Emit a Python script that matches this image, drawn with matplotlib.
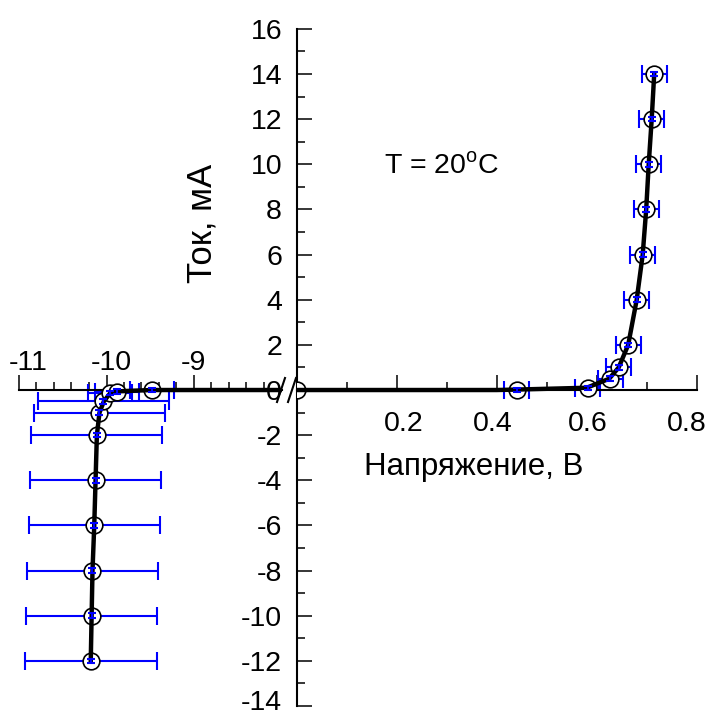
import numpy as np
import matplotlib
matplotlib.use("Agg")
import matplotlib.pyplot as plt
from matplotlib.lines import Line2D
from matplotlib.transforms import ScaledTranslation

plt.rcParams['font.family'] = ['Liberation Sans', 'DejaVu Sans']
plt.rcParams['font.size'] = 20.5
plt.rcParams['axes.unicode_minus'] = False
plt.rcParams['mathtext.fontset'] = 'custom'
plt.rcParams['mathtext.rm'] = 'Liberation Sans'

# reverse branch (left part of the broken axis), volts / mA
left_v = [-10.177, -10.169, -10.162, -10.139, -10.123, -10.112, -10.082, -10.037, -9.96, -9.883, -9.483]
left_i = [-12, -10, -8, -6, -4, -2, -1, -0.5, -0.13, -0.07, 0]
left_verr = [0.75, 0.75, 0.75, 0.75, 0.75, 0.75, 0.75, 0.75, 0.25, 0.25, 0.25]

# forward branch (right part)
right_v = [0.0, 0.440, 0.582, 0.627, 0.644, 0.663, 0.680, 0.692, 0.699, 0.704, 0.710, 0.715]
right_i = [0, 0, 0.1, 0.5, 1, 2, 4, 6, 8, 10, 12, 14]
right_verr = [0, 0.025, 0.025, 0.025, 0.025, 0.025, 0.025, 0.025, 0.025, 0.025, 0.025, 0.025]
ierr = 0.1

# fitted curve
curve_left_v = [-10.18, -10.17, -10.16, -10.14, -10.125, -10.11, -10.08, -10.03, -9.96, -9.88, -9.48, -8.0]
curve_left_i = [-12, -10, -8, -6, -4, -2, -1, -0.5, -0.15, -0.06, 0, 0]
curve_right_v = [0.0, 0.40, 0.44, 0.58, 0.625, 0.644, 0.663, 0.680, 0.692, 0.699, 0.704, 0.710, 0.715]
curve_right_i = [0, 0, 0.02, 0.1, 0.5, 1, 2, 4, 6, 8, 10, 12, 14]

W, H = 707, 715
fig = plt.figure(figsize=(W / 100, H / 100), dpi=100)
bot = (H - 706) / H
hgt = (706 - 28.9) / H
axL = fig.add_axes([19 / W, bot, 262.5 / W, hgt])
axR = fig.add_axes([296.7 / W, bot, 400 / W, hgt])

for ax in (axL, axR):
    ax.set_ylim(-14, 16)
    ax.patch.set_alpha(0)

blue = '#0000ff'
mk = dict(marker='o', ms=12, mfc='white', mec='black', mew=1.2, ls='none', zorder=3)
xbar = dict(fmt='none', ecolor=blue, elinewidth=1.5, capsize=6.5, capthick=1.5, zorder=2)
ybar = dict(fmt='none', ecolor=blue, elinewidth=1.5, capsize=3, capthick=1.5, zorder=5)

# left part
axL.set_xlim(-11, -8)
axL.errorbar(left_v, left_i, xerr=left_verr, **xbar)
axL.plot(left_v, left_i, **mk)
axL.plot(curve_left_v, curve_left_i, color='black', lw=3.2, zorder=4)
axL.errorbar(left_v, left_i, yerr=ierr, **ybar)

# right part
axR.set_xlim(0, 0.8)
axR.errorbar(right_v[1:], right_i[1:], xerr=right_verr[1:], **xbar)
axR.plot(right_v, right_i, **mk)
axR.plot(curve_right_v, curve_right_i, color='black', lw=3.2, zorder=4)
axR.errorbar(right_v[1:], right_i[1:], yerr=ierr, **ybar)

# left axis styling: only the x line at I=0, labels above
for s in ('left', 'right', 'bottom'):
    axL.spines[s].set_visible(False)
axL.spines['top'].set_position(('data', 0))
axL.spines['top'].set_linewidth(1.5)
axL.set_yticks([])
axL.xaxis.tick_top()
axL.set_xticks([-11, -10, -9])
axL.set_xticks(np.arange(-10.8, -8.1, 0.2), minor=True)
axL.tick_params(axis='x', which='both', direction='out', width=1.1, top=True,
                bottom=False, labeltop=True, labelbottom=False)
axL.tick_params(axis='x', which='major', length=10.8, pad=-1)
axL.tick_params(axis='x', which='minor', length=5.5)

# right axis styling
axR.spines['top'].set_visible(False)
axR.spines['right'].set_visible(False)
axR.spines['bottom'].set_position(('data', 0))
axR.spines['bottom'].set_linewidth(1.5)
axR.spines['left'].set_linewidth(1.5)
axR.set_xticks([0.2, 0.4, 0.6, 0.8])
axR.set_xticklabels(['0.2', '0.4', '0.6', '0.8'])
axR.set_xticks([0.1, 0.3, 0.5, 0.7], minor=True)
axR.set_yticks(np.arange(-14, 17, 2))
axR.set_yticks(np.arange(-13, 16, 2), minor=True)
axR.tick_params(which='both', direction='in', width=1.1)
axR.tick_params(which='major', length=10.8)
axR.tick_params(which='minor', length=5.5)
axR.tick_params(axis='x', which='major', pad=15)
axR.tick_params(axis='y', which='major', pad=10.5)

axR.text(0.174, 9.92, 'T = 20$^{\\mathrm{o}}$C', va='center', ha='left')

fig.text(202 / W, 1 - 223 / H, 'Ток, мА', rotation=90, ha='center', va='center',
         fontsize=25)
fig.text(583 / W, 1 - 475.5 / H, 'Напряжение, В', ha='right', va='baseline',
         fontsize=22.5)

# axis break marks
for x0 in (277, 288):
    fig.add_artist(Line2D([x0 / W, (x0 + 8) / W], [1 - 402 / H, 1 - 378 / H],
                          color='black', lw=1.5))

# the original software placed the tick labels slightly off their ticks
fig.canvas.draw()


def shift_labels(ticks, dxs, dys):
    for tick, dx, dy in zip(ticks, dxs, dys):
        for lab in (tick.label1, tick.label2):
            lab.set_transform(lab.get_transform() +
                              ScaledTranslation(dx / 100, dy / 100, fig.dpi_scale_trans))


shift_labels(axL.xaxis.get_major_ticks(), [9, 5, -1], [0, 0, 0])
shift_labels(axR.xaxis.get_major_ticks(), [7, -4, -9, -10], [0, 0, 0, 0])
# keep the lowest y label inside the picture
shift_labels(axR.yaxis.get_major_ticks()[:1], [0], [6])

fig.savefig('out.png', dpi=100)
